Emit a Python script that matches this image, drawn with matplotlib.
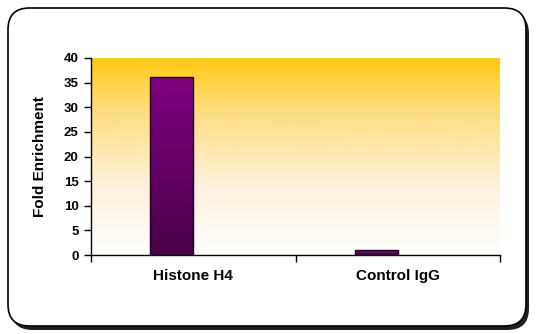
import numpy as np
import matplotlib
matplotlib.use("Agg")
import matplotlib.pyplot as plt
from matplotlib.patches import FancyBboxPatch
from matplotlib.colors import LinearSegmentedColormap

# data
categories = ["Histone H4", "Control IgG"]
fold_enrichment = [36.2, 1.0]
y_ticks = [0, 5, 10, 15, 20, 25, 30, 35, 40]

plt.rcParams['font.family'] = ['Liberation Sans', 'DejaVu Sans']

W, H = 537, 334
fig = plt.figure(figsize=(W / 100, H / 100), dpi=100)
fig.patch.set_facecolor("white")

# rounded frame with a shadow
shadow = FancyBboxPatch((11 / W, 4 / H), 518 / W, 318 / H,
                        boxstyle="round,pad=0,rounding_size=0.04",
                        transform=fig.transFigure, facecolor="#202020",
                        edgecolor="none", zorder=0, mutation_aspect=W / H)
frame = FancyBboxPatch((8 / W, 8 / H), 518 / W, 318 / H,
                       boxstyle="round,pad=0,rounding_size=0.04",
                       transform=fig.transFigure, facecolor="white",
                       edgecolor="black", linewidth=1.2, zorder=1,
                       mutation_aspect=W / H)
fig.patches.extend([shadow, frame])

ax = fig.add_axes([91 / W, 1 - 255 / H, (500 - 91) / W, (255 - 58) / H])
ax.set_zorder(2)
ax.patch.set_alpha(0)

x = np.arange(len(categories))
ax.set_xlim(-0.5, len(categories) - 0.5)
ax.set_ylim(0, 40)

# gold-to-white background
bg = LinearSegmentedColormap.from_list("bg", [(0, "#FFFFFF"), (0.35, "#FEF1DC"),
                                              (0.75, "#FEDC7A"), (1, "#FFC814")])
grad = np.linspace(0, 1, 256).reshape(-1, 1)
ax.imshow(grad, cmap=bg, origin="lower", aspect="auto",
          extent=(-0.5, len(categories) - 0.5, 0, 40), zorder=0)

bw = 0.21
bars = ax.bar(x - bw / 2, fold_enrichment, width=bw, color="none",
              edgecolor="#200020", linewidth=1.0, zorder=3)
barmap = LinearSegmentedColormap.from_list("bar", ["#4A0048", "#800080"])
for b in bars:
    im = ax.imshow(grad, cmap=barmap, origin="lower", aspect="auto",
                   extent=(b.get_x(), b.get_x() + b.get_width(), 0, b.get_height()),
                   zorder=2)
    im.set_clip_path(b)
ax.set_xlim(-0.5, len(categories) - 0.5)
ax.set_ylim(0, 40)

ax.spines["top"].set_visible(False)
ax.spines["right"].set_visible(False)
ax.spines["left"].set_linewidth(1.0)
ax.spines["bottom"].set_linewidth(1.0)

ax.set_yticks(y_ticks)
ax.set_yticklabels([str(v) for v in y_ticks], fontsize=9.5, fontweight="bold")
ax.tick_params(axis="y", length=5, width=1, pad=4)

ax.set_xticks(np.arange(-0.5, len(categories)), minor=False)
ax.set_xticklabels([])
ax.tick_params(axis="x", which="major", length=5, width=1)
ax.set_xticks(x, minor=True)
ax.set_xticklabels(categories, minor=True, fontsize=11, fontweight="bold")
ax.tick_params(axis="x", which="minor", length=0, pad=10)

ax.set_ylabel("Fold Enrichment", fontsize=11, fontweight="bold", labelpad=12)

fig.savefig("out.png", dpi=100)
